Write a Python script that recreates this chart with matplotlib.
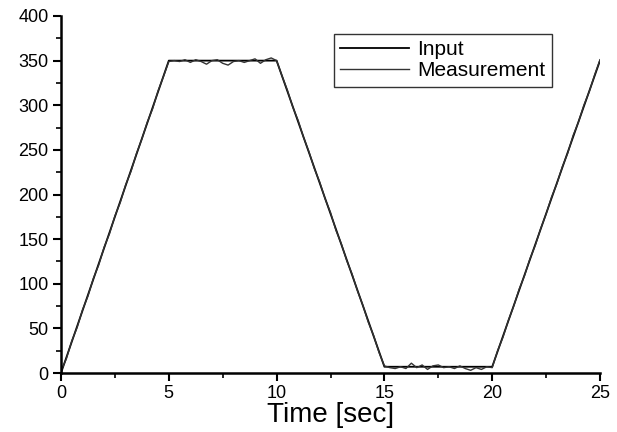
import numpy as np
import matplotlib.pyplot as plt
from matplotlib.ticker import MultipleLocator

# input profile (breakpoints)
t_input = [0, 5, 10, 15, 20, 25]
v_input = [0, 350, 350, 7, 7, 350]

t_meas = np.arange(0, 25.01, 0.25)
v_meas = [
    2, 16, 36, 51, 71, 86, 106, 121, 141, 156, 176, 191, 211, 226, 246, 262, 281, 296, 316, 332, 349,
    350, 349, 351, 348, 351, 349, 346, 350, 351, 347, 345, 349, 350, 348, 350, 352, 347, 351, 353, 350,
    333, 317, 298, 283, 264, 248, 229, 214, 195, 180, 160, 145, 126, 111, 92, 76, 57, 42, 23, 8,
    6, 5, 7, 5, 11, 6, 9, 4, 8, 9, 6, 7, 5, 8, 5, 3, 6, 4, 7, 6,
    25, 40, 59, 75, 94, 109, 128, 143, 162, 178, 197, 212, 231, 246, 266, 281, 300, 315, 334, 351,
]

plt.rcParams['font.family'] = ['Liberation Sans', 'DejaVu Sans']

fig = plt.figure(figsize=(6.17, 4.32), dpi=100)
ax = fig.add_axes([61 / 617, 59 / 432, 539 / 617, 357 / 432])

ax.plot(t_input, v_input, color='black', lw=1.3, label='Input')
ax.plot(t_meas, v_meas, color='#333333', lw=1.0, label='Measurement')

ax.set_xlim(0, 25)
ax.set_ylim(0, 400)
ax.xaxis.set_major_locator(MultipleLocator(5))
ax.xaxis.set_minor_locator(MultipleLocator(2.5))
ax.yaxis.set_major_locator(MultipleLocator(50))
ax.yaxis.set_minor_locator(MultipleLocator(25))

for s in ['top', 'right']:
    ax.spines[s].set_visible(False)
for s in ['left', 'bottom']:
    ax.spines[s].set_linewidth(1.8)

ax.tick_params(which='major', direction='out', length=6, width=1.5, labelsize=13, pad=3)
ax.tick_params(which='minor', direction='out', length=3.5, width=1.2)

ax.set_xlabel('Time [sec]', fontsize=20, labelpad=0)

leg = ax.legend(loc='upper left', bbox_to_anchor=(334 / 617, 1 - 34 / 432),
                bbox_transform=fig.transFigure, fontsize=15, frameon=True,
                fancybox=False, edgecolor='black', handlelength=3.3,
                handletextpad=0.4, borderpad=0.3, labelspacing=0.1,
                borderaxespad=0)
leg.get_frame().set_linewidth(1.0)

fig.savefig('out.png', dpi=100)
